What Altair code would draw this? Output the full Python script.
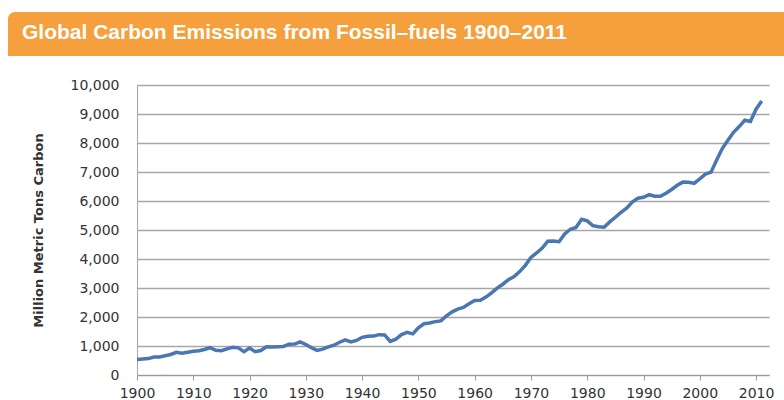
import altair as alt
import pandas as pd

years = list(range(1900, 2012))
emissions = [
    534, 552, 566, 617, 624, 663, 707, 784, 750, 785,
    819, 836, 879, 943, 850, 838, 901, 955, 936, 806,
    932, 803, 845, 970, 963, 975, 983, 1062, 1065, 1145,
    1053, 940, 847, 893, 973, 1027, 1130, 1209, 1142, 1192,
    1299, 1334, 1342, 1391, 1383, 1160, 1238, 1392, 1469, 1419,
    1630, 1767, 1795, 1841, 1865, 2042, 2177, 2270, 2330, 2454,
    2569, 2580, 2686, 2833, 2995, 3130, 3288, 3393, 3566, 3780,
    4053, 4208, 4376, 4614, 4623, 4596, 4864, 5026, 5087, 5369,
    5315, 5152, 5113, 5094, 5280, 5439, 5607, 5752, 5965, 6097,
    6127, 6217, 6164, 6162, 6266, 6398, 6542, 6651, 6643, 6610,
    6765, 6927, 6996, 7416, 7807, 8093, 8370, 8566, 8783, 8740,
    9167, 9449,
]
x_ticks = list(range(1900, 2011, 10))
y_ticks = list(range(0, 10001, 1000))
title_text = ["Global Carbon Emissions from Fossil–fuels 1900–2011"]
y_title = "Million Metric Tons Carbon"

df = pd.DataFrame({"Year": years, "Emissions": emissions})
tdf = pd.DataFrame({"t": title_text})

FONT = "DejaVu Sans"

line = alt.Chart(df).mark_line(color="#4a76b2", strokeWidth=3.5, clip=False).encode(
    x=alt.X("Year:Q", scale=alt.Scale(domain=[1900, 2012.3], nice=False, zero=False),
            axis=alt.Axis(values=x_ticks, format="d", title=None, grid=False,
                          tickSize=5, tickColor="#999999", domainColor="#999999",
                          labelFont=FONT, labelFontSize=14, labelColor="#333333",
                          labelPadding=6, labelFlush=False)),
    y=alt.Y("Emissions:Q", scale=alt.Scale(domain=[0, 10000], nice=False),
            axis=alt.Axis(values=y_ticks, format=",d", title=y_title,
                          grid=True, gridColor="#a6a6a6", gridWidth=1.3,
                          ticks=False, domainColor="#a6a6a6",
                          labelFont=FONT, labelFontSize=14, labelColor="#333333",
                          labelPadding=18,
                          titleFont=FONT, titleFontSize=13, titleFontWeight="bold",
                          titleColor="#333333", titleX=-99, titleY=145,
                          titleAngle=-90, titleAlign="center", titleBaseline="middle")),
)

bar = alt.Chart(tdf).mark_rect(color="#f5a03c", cornerRadiusTopLeft=7, clip=False).encode(
    x=alt.value(-129), x2=alt.value(647), y=alt.value(-73), y2=alt.value(-29)
)

title = alt.Chart(tdf).mark_text(
    align="left", baseline="middle", color="white", font="Liberation Sans",
    fontWeight="bold", fontSize=21, clip=False
).encode(text="t:N", x=alt.value(-115), y=alt.value(-52))

chart = alt.layer(bar, title, line).properties(
    width=632, height=290,
    padding={"left": 137, "top": 85, "right": 15, "bottom": 25},
    autosize=alt.AutoSizeParams(type="none"),
    background="white",
).configure_view(stroke=None)

chart.save("out.html", embed_options={"renderer": "svg", "actions": False})
